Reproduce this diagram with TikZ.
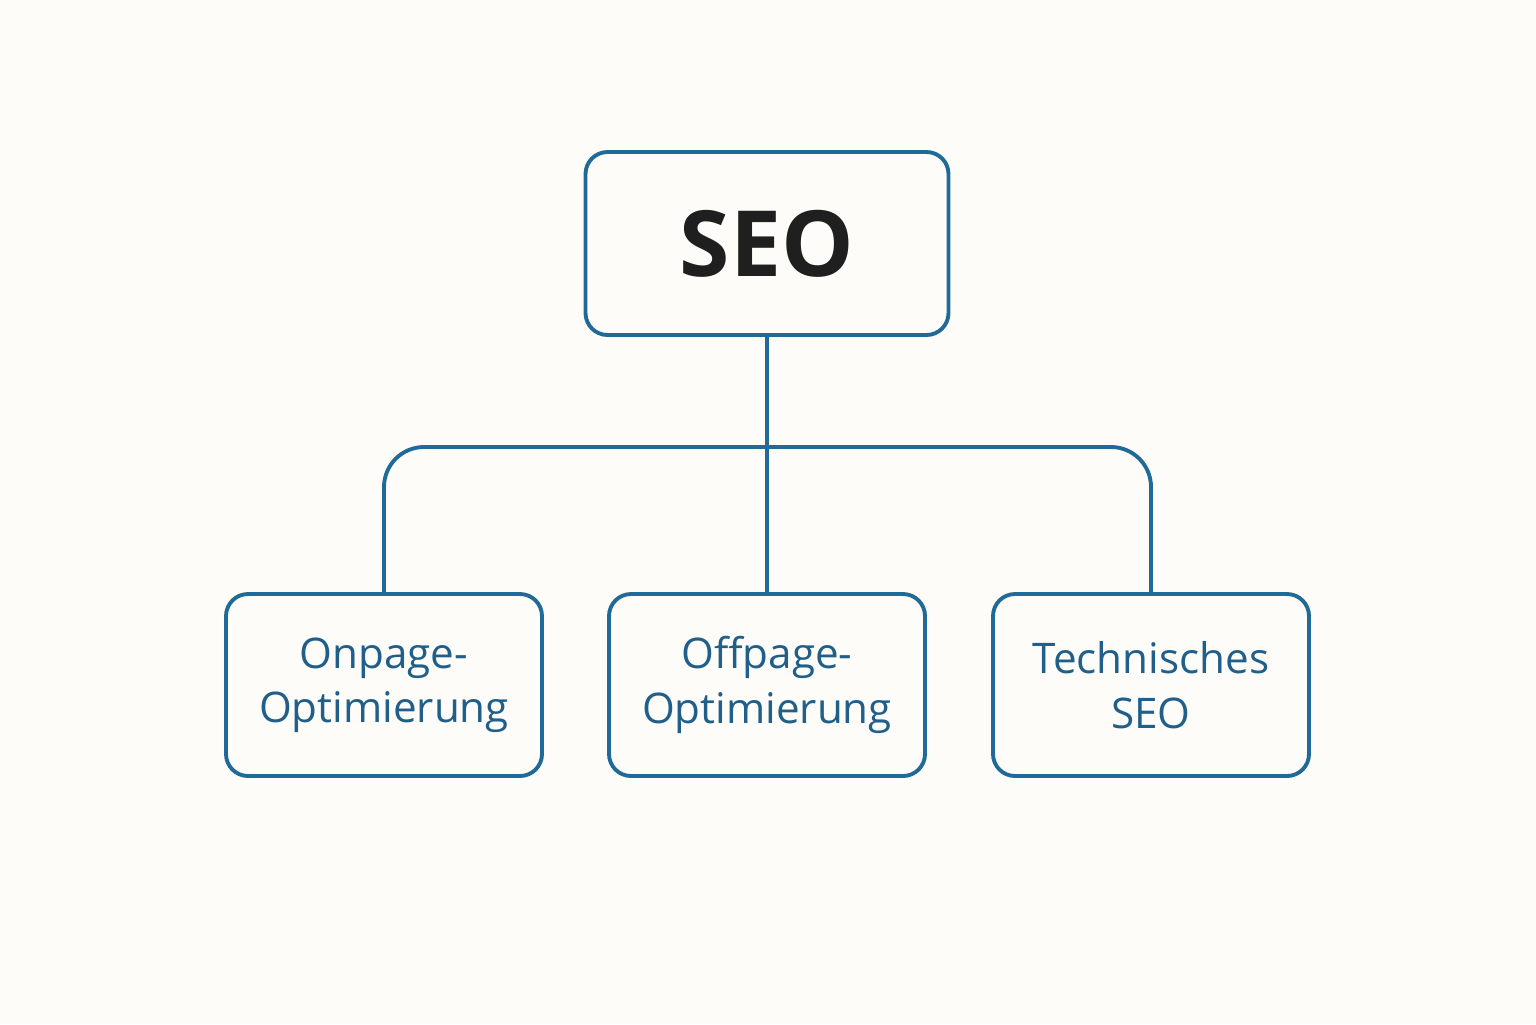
\documentclass[tikz,border=0pt]{standalone}
\usepackage{fontspec}
\setmainfont{Open Sans}
\definecolor{seoblue}{HTML}{1F6A96}
\definecolor{seotext}{HTML}{1F5F8A}
\definecolor{bgcol}{HTML}{FDFCF8}
\tikzset{%
    box/.style={draw=seoblue, line width=1.1pt, rounded corners=0.22cm, align=center},
    sub/.style={box, minimum width=3.16cm, minimum height=1.82cm, text=seotext, font=\fontsize{12}{15.5}\selectfont},
    link/.style={draw=seoblue, line width=1.1pt}
}
\begin{document}
\begin{tikzpicture}
            % background and canvas
            \fill[bgcol] (0,0) rectangle (15.36,-10.24);
            \useasboundingbox (0,0) rectangle (15.36,-10.24);

            % main box
            \node[box, minimum width=3.63cm, minimum height=1.83cm, text=black!88, font=\bfseries\fontsize{26}{30}\selectfont] (seo) at (7.67,-2.435){SEO};

            % sub boxes
            \node[sub] (on) at (3.84,-6.85){Onpage-\\Optimierung};
            \node[sub] (off) at (7.67,-6.85){Offpage-\\Optimierung};
            \node[sub] (tech) at (11.51,-6.85){Technisches\\SEO};

            % connectors
            \coordinate (bar) at (7.67,-4.47);
            \draw[link] (seo.south) -- (off.north);
            \draw[link, rounded corners=0.4cm] (on.north) |- (bar) -| (tech.north);
        \end{tikzpicture}
\end{document}
